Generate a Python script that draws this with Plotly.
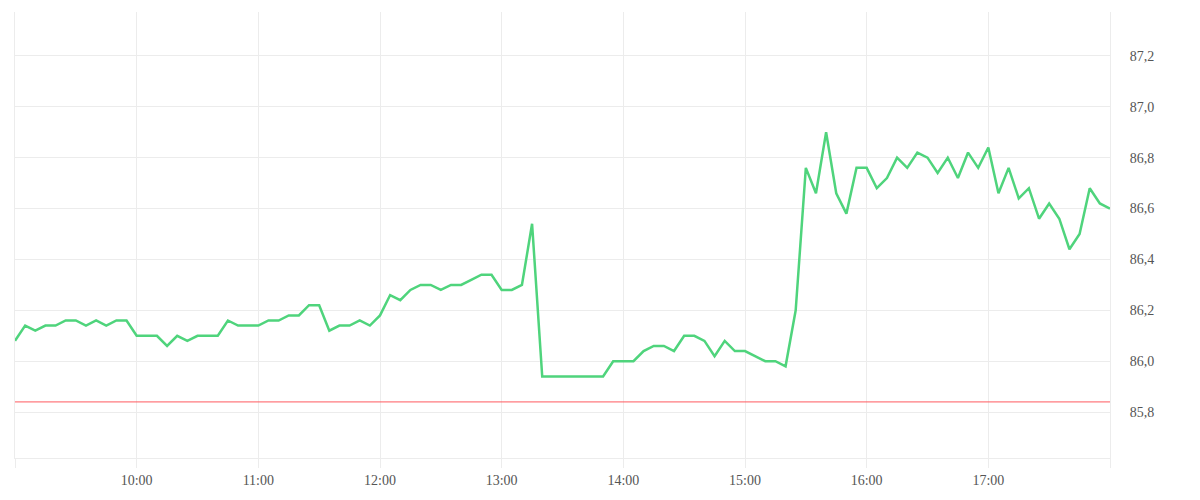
import pandas as pd
import plotly.graph_objects as go

# 5-minute samples from 09:00 to 18:00
start_time = "2024-01-15 09:00"
end_time = "2024-01-15 18:00"
prices = [
    86.08, 86.14, 86.12, 86.14, 86.14, 86.16, 86.16, 86.14, 86.16, 86.14, 86.16, 86.16,  # 9h
    86.10, 86.10, 86.10, 86.06, 86.10, 86.08, 86.10, 86.10, 86.10, 86.16, 86.14, 86.14,  # 10h
    86.14, 86.16, 86.16, 86.18, 86.18, 86.22, 86.22, 86.12, 86.14, 86.14, 86.16, 86.14,  # 11h
    86.18, 86.26, 86.24, 86.28, 86.30, 86.30, 86.28, 86.30, 86.30, 86.32, 86.34, 86.34,  # 12h
    86.28, 86.28, 86.30, 86.54, 85.94, 85.94, 85.94, 85.94, 85.94, 85.94, 85.94, 86.00,  # 13h
    86.00, 86.00, 86.04, 86.06, 86.06, 86.04, 86.10, 86.10, 86.08, 86.02, 86.08, 86.04,  # 14h
    86.04, 86.02, 86.00, 86.00, 85.98, 86.20, 86.76, 86.66, 86.90, 86.66, 86.58, 86.76,  # 15h
    86.76, 86.68, 86.72, 86.80, 86.76, 86.82, 86.80, 86.74, 86.80, 86.72, 86.82, 86.76,  # 16h
    86.84, 86.66, 86.76, 86.64, 86.68, 86.56, 86.62, 86.56, 86.44, 86.50, 86.68, 86.62,  # 17h
    86.60,
]
threshold = 85.84
hour_ticks = pd.date_range(start_time, end_time, freq="1h")
hour_labels = ["", "10:00", "11:00", "12:00", "13:00", "14:00", "15:00", "16:00", "17:00", ""]
y_ticks = [85.8, 86.0, 86.2, 86.4, 86.6, 86.8, 87.0, 87.2]
y_labels = ["85,8", "86,0", "86,2", "86,4", "86,6", "86,8", "87,0", "87,2"]

times = pd.date_range(start_time, end_time, freq="5min")

GRID = "#ececec"
FONT = dict(family="'Liberation Serif', serif", size=14, color="#555555")

fig = go.Figure()
fig.add_trace(go.Scatter(
    x=times, y=prices, mode="lines",
    line=dict(color="#4fd47c", width=2.5),
    hoverinfo="x+y", showlegend=False,
))
fig.add_hline(y=threshold, line=dict(color="#ff5a5f", width=1), layer="above")

fig.update_layout(
    width=1200, height=500,
    margin=dict(l=7, r=98, t=4, b=50),
    paper_bgcolor="white", plot_bgcolor="white",
    font=FONT,
    showlegend=False,
)
fig.update_xaxes(
    range=[times[0], times[-1]],
    tickvals=hour_ticks, ticktext=hour_labels,
    showgrid=True, gridcolor=GRID, gridwidth=1,
    ticks="outside", ticklen=9, tickcolor=GRID, tickwidth=1,
    showline=True, linecolor=GRID, linewidth=1,
    zeroline=False, tickfont=FONT,
)
fig.update_yaxes(
    side="right",
    range=[85.6196, 87.3725],
    tickvals=y_ticks, ticktext=y_labels,
    showgrid=True, gridcolor=GRID, gridwidth=1,
    ticks="", ticklabelstandoff=16,
    showline=True, mirror=True, linecolor=GRID, linewidth=1,
    zeroline=False, tickfont=FONT,
)

fig.write_html("out.html")
